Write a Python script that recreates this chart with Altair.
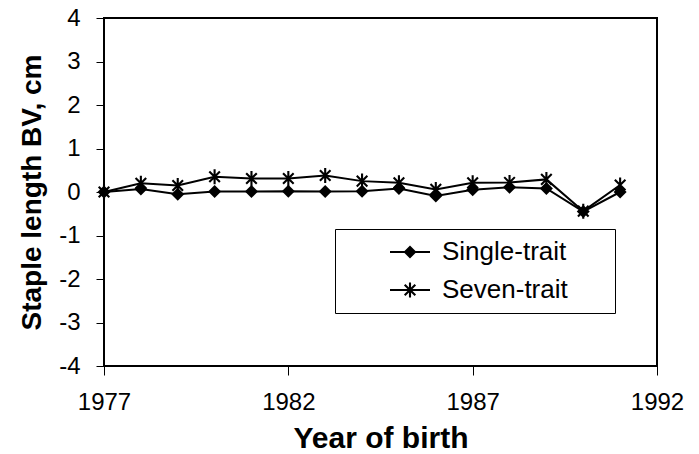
import altair as alt
import pandas as pd

years = list(range(1977, 1992))
single_trait = [0.0, 0.07, -0.05, 0.01, 0.01, 0.02, 0.01, 0.02, 0.08, -0.09, 0.05, 0.11, 0.08, -0.45, 0.0]
seven_trait = [0.0, 0.20, 0.15, 0.35, 0.31, 0.31, 0.38, 0.25, 0.21, 0.06, 0.21, 0.22, 0.29, -0.44, 0.16]
series_names = ["Single-trait", "Seven-trait"]
x_ticks = [1977, 1982, 1987, 1992]
y_ticks = [-4, -3, -2, -1, 0, 1, 2, 3, 4]

df = pd.DataFrame({
    "year": years + years,
    "bv": single_trait + seven_trait,
    "series": [series_names[0]] * len(years) + [series_names[1]] * len(years),
})

FONT = "Liberation Sans"


def f(v):
    return f"{v:.3f}"


def rect(x0, y0, x1, y1):
    return f"M{f(x0)},{f(y0)}L{f(x1)},{f(y0)}L{f(x1)},{f(y1)}L{f(x0)},{f(y1)}Z"


def diamond_path(h):
    return f"M0,{f(-h)}L{f(h)},0L0,{f(h)}L{f(-h)},0Z"


def star_path(arm, w):
    d = arm * 0.7071
    p = w * 0.7071
    v = rect(-w, -arm, w, arm)
    d1 = (f"M{f(-d + p)},{f(-d - p)}L{f(d + p)},{f(d - p)}"
          f"L{f(d - p)},{f(d + p)}L{f(-d - p)},{f(-d + p)}Z")
    d2 = (f"M{f(-d - p)},{f(d - p)}L{f(d - p)},{f(-d - p)}"
          f"L{f(d + p)},{f(-d + p)}L{f(-d + p)},{f(d + p)}Z")
    return v + d1 + d2


# plot markers: size 169 -> unit = 6.5 px
PU = 6.5
plot_shapes = [diamond_path(6.5 / PU), star_path(7.5 / PU, 1.05 / PU)]
# legend symbols: size 324 -> unit = 9 px; line segment 40 px long
LU = 9.0
line_seg = rect(-20 / LU, -1 / LU, 20 / LU, 1 / LU)
legend_shapes = [line_seg + diamond_path(6.5 / LU), line_seg + star_path(7.5 / LU, 1.05 / LU)]

x_enc = alt.X(
    "year:Q",
    scale=alt.Scale(domain=[1977, 1992], nice=False, zero=False),
    axis=alt.Axis(
        values=x_ticks, format="d", title="Year of birth",
        tickSize=9, labelPadding=15, titlePadding=9, labelFlush=False,
        titleFontSize=30,
    ),
)
y_enc = alt.Y(
    "bv:Q",
    scale=alt.Scale(domain=[-4, 4], nice=False, zero=False),
    axis=alt.Axis(
        values=y_ticks, title="Staple length BV, cm",
        labelExpr="toString(datum.value)",
        tickSize=8, labelPadding=16, titlePadding=12,
        titleFontSize=28,
    ),
)

lines = alt.Chart(df).mark_line(strokeWidth=2, color="black").encode(
    x=x_enc,
    y=y_enc,
    detail="series:N",
)

points = alt.Chart(df).mark_point(
    filled=True, color="black", size=169, opacity=1
).encode(
    x=x_enc,
    y=y_enc,
    shape=alt.Shape(
        "series:N",
        scale=alt.Scale(domain=series_names, range=plot_shapes),
        legend=None,
    ),
)

legend_layer = alt.Chart(df).transform_calculate(
    entry="datum.series"
).transform_filter("false").mark_point(
    filled=True, color="black", size=324, opacity=1
).encode(
    shape=alt.Shape(
        "entry:N",
        scale=alt.Scale(domain=series_names, range=legend_shapes),
        legend=alt.Legend(
            orient="none", legendX=231, legendY=211,
            # invisible spacer title on the right side widens the framed box
            title="MM", titleOrient="right", titleOpacity=0,
            titleFont=FONT, titleFontSize=21, titlePadding=2,
            labelFont=FONT, labelFontSize=26, labelColor="black",
            padding=10, rowPadding=12,
            symbolSize=324, symbolFillColor="black", symbolStrokeWidth=0,
            symbolOffset=52, labelOffset=19,
            strokeColor="black",
        ),
    ),
)

chart = alt.layer(lines, points, legend_layer).resolve_scale(shape="independent").properties(
    width=553,
    height=348,
    background="white",
    autosize=alt.AutoSizeParams(type="none"),
    padding={"left": 96, "top": 10, "right": 34, "bottom": 88},
).configure_view(
    stroke="black", strokeWidth=2,
).configure_axis(
    domain=False, grid=False,
    ticks=True, tickColor="black", tickWidth=1,
    labelFont=FONT, labelFontSize=24, labelColor="black",
    titleFont=FONT, titleFontWeight="bold", titleColor="black",
)

chart.save("out.html", embed_options={"renderer": "svg", "actions": False})
